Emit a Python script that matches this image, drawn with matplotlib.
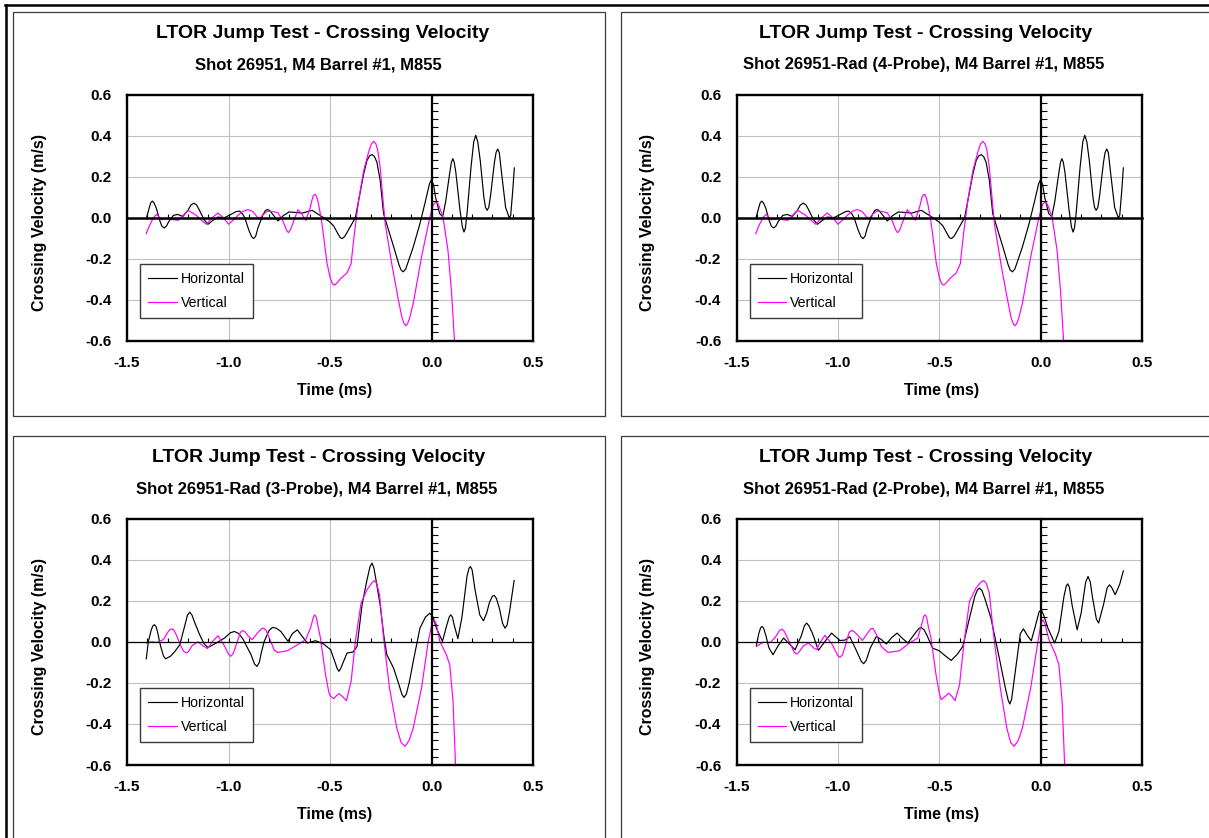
import matplotlib
matplotlib.use("Agg")
import matplotlib.pyplot as plt
from matplotlib.ticker import MultipleLocator, FormatStrFormatter
from matplotlib.patches import Rectangle
from matplotlib.lines import Line2D

plt.rcParams['font.family'] = ['Liberation Sans', 'DejaVu Sans']

# ---------------- data: (time ms, crossing velocity m/s) ----------------
# Shot 26951 (the 4-probe radial chart shows the same traces)
base_h = [(-1.405, -0.005), (-1.39, 0.05), (-1.383, 0.073), (-1.375, 0.081), (-1.367, 0.072),
          (-1.355, 0.045), (-1.34, -0.01), (-1.328, -0.042), (-1.316, -0.05), (-1.305, -0.04),
          (-1.295, -0.02), (-1.272, 0.011), (-1.25, 0.016), (-1.225, 0.006), (-1.20, 0.035),
          (-1.185, 0.062), (-1.171, 0.071), (-1.157, 0.062), (-1.145, 0.04), (-1.12, -0.01),
          (-1.101, -0.032), (-1.075, -0.012), (-1.052, 0.003), (-1.02, 0.0), (-0.99, 0.015),
          (-0.962, 0.03), (-0.946, 0.032), (-0.932, 0.02), (-0.92, 0.0), (-0.90, -0.06),
          (-0.886, -0.093), (-0.876, -0.102), (-0.866, -0.09), (-0.855, -0.05), (-0.83, 0.015),
          (-0.818, 0.035), (-0.808, 0.040), (-0.797, 0.035), (-0.785, 0.02), (-0.756, -0.016),
          (-0.73, 0.01), (-0.702, 0.028), (-0.66, 0.025), (-0.637, 0.022), (-0.61, 0.03),
          (-0.588, 0.036), (-0.56, 0.018), (-0.531, 0.0), (-0.50, -0.022), (-0.482, -0.04),
          (-0.46, -0.08), (-0.45, -0.097), (-0.44, -0.102), (-0.428, -0.092), (-0.415, -0.07),
          (-0.375, 0.0), (-0.334, 0.214), (-0.318, 0.279), (-0.305, 0.302), (-0.293, 0.308),
          (-0.281, 0.298), (-0.269, 0.271), (-0.253, 0.183), (-0.236, 0.019), (-0.187, -0.14),
          (-0.16, -0.23), (-0.15, -0.255), (-0.139, -0.264), (-0.127, -0.25), (-0.106, -0.19),
          (-0.09, -0.143), (-0.057, -0.029), (-0.03, 0.08), (-0.01, 0.165), (0.0, 0.187),
          (0.01, 0.16), (0.02, 0.10), (0.04, 0.02), (0.055, 0.005), (0.07, 0.08),
          (0.09, 0.22), (0.098, 0.27), (0.105, 0.288), (0.112, 0.27), (0.12, 0.22),
          (0.14, 0.04), (0.152, -0.045), (0.16, -0.07), (0.167, -0.05), (0.175, 0.02),
          (0.195, 0.25), (0.208, 0.37), (0.218, 0.402), (0.228, 0.37), (0.24, 0.28),
          (0.258, 0.10), (0.266, 0.05), (0.274, 0.036), (0.282, 0.05), (0.29, 0.10),
          (0.31, 0.27), (0.318, 0.318), (0.326, 0.335), (0.334, 0.318), (0.345, 0.22),
          (0.365, 0.05), (0.383, 0.0), (0.39, 0.01), (0.40, 0.13), (0.408, 0.243)]
base_v = [(-1.405, -0.078), (-1.39, -0.04), (-1.37, 0.0), (-1.354, 0.016), (-1.329, -0.01),
          (-1.30, -0.005), (-1.27, -0.01), (-1.248, -0.013), (-1.22, 0.015), (-1.199, 0.036),
          (-1.158, 0.011), (-1.13, -0.015), (-1.109, -0.032), (-1.08, 0.0), (-1.052, 0.023),
          (-1.025, 0.0), (-1.0, -0.032), (-0.975, -0.01), (-0.954, 0.011), (-0.93, 0.03),
          (-0.905, 0.04), (-0.88, 0.03), (-0.86, 0.005), (-0.848, -0.005), (-0.83, 0.015),
          (-0.808, 0.032), (-0.78, 0.03), (-0.756, 0.024), (-0.73, -0.02), (-0.715, -0.06),
          (-0.705, -0.073), (-0.695, -0.06), (-0.68, -0.02), (-0.658, 0.039), (-0.64, 0.02),
          (-0.619, -0.013), (-0.60, 0.04), (-0.585, 0.10), (-0.578, 0.112), (-0.571, 0.113),
          (-0.563, 0.095), (-0.555, 0.06), (-0.541, -0.02), (-0.531, -0.094), (-0.515, -0.22),
          (-0.50, -0.29), (-0.488, -0.322), (-0.478, -0.329), (-0.465, -0.318), (-0.448, -0.297),
          (-0.416, -0.269), (-0.396, -0.224), (-0.388, -0.15), (-0.38, -0.078), (-0.359, 0.084),
          (-0.334, 0.23), (-0.31, 0.32), (-0.297, 0.358), (-0.285, 0.373), (-0.274, 0.36),
          (-0.265, 0.33), (-0.253, 0.246), (-0.24, 0.10), (-0.228, -0.029), (-0.196, -0.224),
          (-0.163, -0.402), (-0.145, -0.49), (-0.135, -0.517), (-0.126, -0.527), (-0.117, -0.515),
          (-0.108, -0.49), (-0.09, -0.418), (-0.049, -0.191), (-0.008, 0.003), (0.01, 0.065),
          (0.021, 0.076), (0.032, 0.068), (0.04, 0.05), (0.057, 0.0), (0.081, -0.159),
          (0.098, -0.353), (0.114, -0.613), (0.12, -0.72)]

# Shot 26951-Rad (3-Probe)
p3_h = [(-1.405, -0.083), (-1.395, 0.0), (-1.38, 0.06), (-1.372, 0.078), (-1.365, 0.083),
        (-1.357, 0.074), (-1.35, 0.05), (-1.335, -0.02), (-1.32, -0.07), (-1.31, -0.083),
        (-1.285, -0.07), (-1.264, -0.047), (-1.24, -0.015), (-1.215, 0.08), (-1.202, 0.13),
        (-1.191, 0.144), (-1.18, 0.13), (-1.165, 0.09), (-1.142, 0.034), (-1.12, -0.01),
        (-1.101, -0.028), (-1.06, -0.006), (-1.02, 0.018), (-0.99, 0.044), (-0.971, 0.05),
        (-0.95, 0.04), (-0.93, 0.015), (-0.889, -0.063), (-0.872, -0.108), (-0.86, -0.12),
        (-0.848, -0.10), (-0.84, -0.06), (-0.824, 0.002), (-0.80, 0.055), (-0.783, 0.07),
        (-0.765, 0.066), (-0.742, 0.05), (-0.707, 0.002), (-0.685, 0.04), (-0.661, 0.058),
        (-0.64, 0.03), (-0.612, -0.006), (-0.571, 0.005), (-0.531, -0.011), (-0.497, -0.039),
        (-0.475, -0.10), (-0.465, -0.13), (-0.456, -0.144), (-0.447, -0.13), (-0.435, -0.10),
        (-0.416, -0.055), (-0.386, -0.05), (-0.367, -0.023), (-0.342, 0.18), (-0.318, 0.30),
        (-0.303, 0.365), (-0.293, 0.383), (-0.284, 0.36), (-0.275, 0.31), (-0.253, 0.18),
        (-0.235, 0.03), (-0.22, -0.063), (-0.187, -0.128), (-0.16, -0.21), (-0.145, -0.258),
        (-0.135, -0.271), (-0.124, -0.255), (-0.11, -0.20), (-0.09, -0.096), (-0.057, 0.066),
        (-0.03, 0.12), (-0.008, 0.139), (0.008, 0.12), (0.024, 0.066), (0.054, 0.002),
        (0.075, 0.08), (0.088, 0.122), (0.095, 0.131), (0.103, 0.12), (0.112, 0.08),
        (0.13, 0.015), (0.15, 0.12), (0.175, 0.32), (0.185, 0.358), (0.192, 0.366),
        (0.20, 0.35), (0.215, 0.25), (0.238, 0.13), (0.256, 0.102), (0.272, 0.14),
        (0.285, 0.19), (0.30, 0.222), (0.31, 0.225), (0.32, 0.21), (0.335, 0.16),
        (0.35, 0.09), (0.362, 0.066), (0.372, 0.08), (0.385, 0.15), (0.407, 0.298)]
p3_v = [(-1.405, -0.006), (-1.38, 0.0), (-1.355, -0.003), (-1.321, 0.01), (-1.30, 0.045),
        (-1.288, 0.06), (-1.28, 0.062), (-1.27, 0.058), (-1.26, 0.04), (-1.235, -0.02),
        (-1.22, -0.048), (-1.207, -0.055), (-1.195, -0.045), (-1.18, -0.02), (-1.151, 0.0),
        (-1.125, -0.02), (-1.103, -0.033), (-1.08, 0.0), (-1.052, 0.029), (-1.02, -0.02),
        (-1.0, -0.06), (-0.99, -0.071), (-0.978, -0.06), (-0.96, -0.01), (-0.942, 0.045),
        (-0.93, 0.055), (-0.918, 0.048), (-0.905, 0.03), (-0.884, 0.01), (-0.855, 0.045),
        (-0.838, 0.063), (-0.827, 0.066), (-0.815, 0.055), (-0.80, 0.02), (-0.775, -0.04),
        (-0.759, -0.052), (-0.71, -0.044), (-0.661, -0.015), (-0.62, 0.01), (-0.595, 0.07),
        (-0.582, 0.12), (-0.575, 0.131), (-0.567, 0.118), (-0.56, 0.08), (-0.547, 0.018),
        (-0.522, -0.16), (-0.505, -0.25), (-0.497, -0.266), (-0.481, -0.277), (-0.468, -0.262),
        (-0.456, -0.253), (-0.44, -0.265), (-0.419, -0.287), (-0.396, -0.193), (-0.375, 0.002),
        (-0.347, 0.188), (-0.318, 0.253), (-0.295, 0.285), (-0.282, 0.298), (-0.27, 0.285),
        (-0.256, 0.229), (-0.236, 0.018), (-0.207, -0.225), (-0.171, -0.42), (-0.15, -0.49),
        (-0.13, -0.509), (-0.11, -0.48), (-0.09, -0.42), (-0.049, -0.225), (-0.016, 0.002),
        (0.003, 0.09), (0.013, 0.107), (0.024, 0.085), (0.041, 0.002), (0.073, -0.063),
        (0.09, -0.112), (0.106, -0.29), (0.119, -0.614), (0.124, -0.72)]

# Shot 26951-Rad (2-Probe)
p2_h = [(-1.402, -0.018), (-1.39, 0.04), (-1.381, 0.068), (-1.374, 0.075), (-1.366, 0.065),
        (-1.355, 0.03), (-1.34, -0.03), (-1.32, -0.063), (-1.295, -0.02), (-1.268, 0.018),
        (-1.24, -0.01), (-1.211, -0.039), (-1.18, 0.03), (-1.165, 0.078), (-1.154, 0.091),
        (-1.143, 0.078), (-1.125, 0.04), (-1.096, -0.042), (-1.065, 0.0), (-1.031, 0.042),
        (-0.99, 0.006), (-0.965, 0.008), (-0.941, 0.024), (-0.91, -0.04), (-0.885, -0.095),
        (-0.873, -0.107), (-0.86, -0.09), (-0.84, -0.03), (-0.81, 0.026), (-0.785, 0.01),
        (-0.761, -0.011), (-0.735, 0.02), (-0.708, 0.042), (-0.68, 0.015), (-0.655, -0.006),
        (-0.62, 0.04), (-0.60, 0.065), (-0.59, 0.07), (-0.575, 0.058), (-0.56, 0.03),
        (-0.533, -0.031), (-0.50, -0.044), (-0.467, -0.071), (-0.441, -0.091), (-0.41, -0.06),
        (-0.384, -0.023), (-0.351, 0.115), (-0.325, 0.22), (-0.312, 0.252), (-0.302, 0.261),
        (-0.29, 0.25), (-0.275, 0.21), (-0.245, 0.115), (-0.204, -0.079), (-0.175, -0.22),
        (-0.16, -0.285), (-0.152, -0.303), (-0.143, -0.28), (-0.135, -0.22), (-0.114, -0.063),
        (-0.10, 0.04), (-0.085, 0.063), (-0.065, 0.03), (-0.046, 0.005), (-0.025, 0.08),
        (-0.008, 0.145), (0.003, 0.156), (0.015, 0.13), (0.036, 0.066), (0.069, -0.006),
        (0.09, 0.05), (0.115, 0.22), (0.126, 0.27), (0.134, 0.282), (0.142, 0.265),
        (0.155, 0.18), (0.18, 0.058), (0.20, 0.14), (0.222, 0.29), (0.234, 0.318),
        (0.245, 0.29), (0.255, 0.22), (0.275, 0.11), (0.286, 0.091), (0.31, 0.18),
        (0.328, 0.262), (0.34, 0.277), (0.35, 0.265), (0.368, 0.229), (0.39, 0.28),
        (0.408, 0.345)]
p2_v = [(-1.402, -0.023), (-1.37, -0.003), (-1.333, -0.003), (-1.31, 0.02), (-1.288, 0.055),
        (-1.276, 0.062), (-1.264, 0.05), (-1.24, 0.0), (-1.215, -0.052), (-1.203, -0.06),
        (-1.19, -0.048), (-1.17, -0.02), (-1.145, -0.006), (-1.12, -0.03), (-1.105, -0.038),
        (-1.085, 0.0), (-1.064, 0.031), (-1.03, -0.01), (-1.0, -0.068), (-0.99, -0.075),
        (-0.978, -0.065), (-0.96, -0.01), (-0.945, 0.045), (-0.933, 0.055), (-0.92, 0.05),
        (-0.905, 0.035), (-0.879, 0.006), (-0.855, 0.04), (-0.838, 0.063), (-0.827, 0.066),
        (-0.81, 0.035), (-0.786, -0.023), (-0.753, -0.052), (-0.696, -0.044), (-0.647, -0.006),
        (-0.606, 0.018), (-0.585, 0.09), (-0.576, 0.125), (-0.569, 0.131), (-0.562, 0.118),
        (-0.555, 0.08), (-0.541, 0.018), (-0.516, -0.16), (-0.50, -0.25), (-0.49, -0.282),
        (-0.47, -0.265), (-0.454, -0.25), (-0.438, -0.265), (-0.422, -0.287), (-0.40, -0.209),
        (-0.379, -0.015), (-0.351, 0.196), (-0.319, 0.261), (-0.295, 0.29), (-0.281, 0.298),
        (-0.268, 0.285), (-0.253, 0.237), (-0.232, 0.034), (-0.199, -0.225), (-0.167, -0.42),
        (-0.148, -0.49), (-0.131, -0.509), (-0.11, -0.48), (-0.09, -0.42), (-0.049, -0.225),
        (-0.013, 0.002), (0.002, 0.09), (0.011, 0.107), (0.022, 0.085), (0.041, 0.01),
        (0.074, -0.063), (0.09, -0.112), (0.106, -0.29), (0.119, -0.614), (0.124, -0.72)]

title_main = "LTOR Jump Test - Crossing Velocity"
subtitles = ["Shot 26951, M4 Barrel #1, M855",
             "Shot 26951-Rad (4-Probe), M4 Barrel #1, M855",
             "Shot 26951-Rad (3-Probe), M4 Barrel #1, M855",
             "Shot 26951-Rad (2-Probe), M4 Barrel #1, M855"]
series = [(base_h, base_v), (base_h, base_v), (p3_h, p3_v), (p2_h, p2_v)]
legend_labels = ["Horizontal", "Vertical"]
x_ticks = [-1.5, -1.0, -0.5, 0.0, 0.5]
y_ticks = [-0.6, -0.4, -0.2, 0.0, 0.2, 0.4, 0.6]

# ---------------- layout (pixels of a 1209 x 838 canvas) ----------------
W, H = 1209, 838
fig = plt.figure(figsize=(W / 100, H / 100), dpi=100)
fig.patch.set_facecolor('white')


def fx(x):
    return x / W


def fy(y):
    return 1 - y / H


plot_boxes = [(127, 94.7, 533, 340.7), (736.5, 94.7, 1142, 340.7),
              (127, 518.5, 533, 765), (736.5, 518.5, 1142, 765)]
panel_boxes = [(12.8, 12.3, 605, 416), (621, 12.3, 1216, 416),
               (12.8, 435.7, 605, 845), (621, 435.7, 1216, 845)]
title_xy = [(323, 34, 318, 65), (926, 34, 924, 65),
            (319, 457, 317, 489), (926, 457, 924, 489)]
ylabel_xy = [(40, 222), (647, 222), (40, 646), (647, 646)]
xlabel_xy = [(335, 390), (942, 390), (335, 814), (942, 814)]
zero_h_lw = [1.8, 1.8, 0.9, 0.9]

fig.add_artist(Line2D([fx(5), fx(W + 5)], [fy(5.5), fy(5.5)], color='black', lw=1.8,
                      transform=fig.transFigure))
fig.add_artist(Line2D([fx(5.5), fx(5.5)], [fy(5), fy(H + 5)], color='black', lw=1.8,
                      transform=fig.transFigure))

for i in range(4):
    l, t, r, b = panel_boxes[i]
    fig.add_artist(Rectangle((fx(l), fy(b)), fx(r) - fx(l), fy(t) - fy(b),
                             transform=fig.transFigure, fill=False,
                             edgecolor='#3a3a3a', lw=0.9))

    l, t, r, b = plot_boxes[i]
    pos = [fx(l), fy(b), fx(r) - fx(l), fy(t) - fy(b)]
    ax = fig.add_axes(pos)
    ax.set_xlim(-1.5, 0.5)
    ax.set_ylim(-0.6, 0.6)
    ax.set_xticks(x_ticks)
    ax.set_yticks(y_ticks)
    ax.xaxis.set_major_formatter(FormatStrFormatter('%.1f'))
    ax.yaxis.set_major_formatter(FormatStrFormatter('%.1f'))
    ax.tick_params(length=0, labelsize=11, pad=11)
    for lab in ax.get_xticklabels() + ax.get_yticklabels():
        lab.set_fontweight('bold')
    ax.grid(True, color='#c0c0c0', lw=0.8)
    ax.set_axisbelow(True)
    for s in ax.spines.values():
        s.set_linewidth(1.7)
        s.set_color('black')
        s.set_zorder(5)

    h_pts, v_pts = series[i]
    ax.plot([p[0] for p in h_pts], [p[1] for p in h_pts], color='black', lw=0.85,
            label=legend_labels[0], zorder=3, solid_joinstyle='round')
    ax.plot([p[0] for p in v_pts], [p[1] for p in v_pts], color='#ff00ff', lw=0.85,
            label=legend_labels[1], zorder=3, solid_joinstyle='round')

    leg = ax.legend(loc='lower left', bbox_to_anchor=(0.033, 0.093), borderaxespad=0,
                    fontsize=10.2, frameon=True, fancybox=False, framealpha=1,
                    edgecolor='#3a3a3a', handlelength=2.0, handletextpad=0.3,
                    labelspacing=0.72, borderpad=0.55)
    leg.get_frame().set_linewidth(1.0)
    leg.set_zorder(6)

    # axes crossing at zero, with inward tick marks
    ax2 = fig.add_axes(pos, facecolor='none')
    ax2.set_xlim(-1.5, 0.5)
    ax2.set_ylim(-0.6, 0.6)
    ax2.spines['top'].set_visible(False)
    ax2.spines['right'].set_visible(False)
    ax2.spines['left'].set_position(('data', 0))
    ax2.spines['bottom'].set_position(('data', 0))
    ax2.spines['left'].set_linewidth(1.6)
    ax2.spines['bottom'].set_linewidth(zero_h_lw[i])
    ax2.xaxis.set_major_locator(MultipleLocator(0.5))
    ax2.xaxis.set_minor_locator(MultipleLocator(0.1))
    ax2.yaxis.set_major_locator(MultipleLocator(0.2))
    ax2.yaxis.set_minor_locator(MultipleLocator(0.04))
    ax2.tick_params(axis='both', which='both', direction='in', labelleft=False,
                    labelbottom=False, width=0.8)
    ax2.tick_params(axis='x', which='both', length=3)
    ax2.tick_params(axis='y', which='both', length=4)

    tx, ty, sx, sy = title_xy[i]
    fig.text(fx(tx), fy(ty), title_main, ha='center', va='center', fontsize=14,
             fontweight='bold')
    fig.text(fx(sx), fy(sy), subtitles[i], ha='center', va='center', fontsize=12,
             fontweight='bold')
    yx, yy = ylabel_xy[i]
    fig.text(fx(yx), fy(yy), "Crossing Velocity (m/s)", ha='center', va='center',
             rotation=90, fontsize=11.5, fontweight='bold')
    xx, xy = xlabel_xy[i]
    fig.text(fx(xx), fy(xy), "Time (ms)", ha='center', va='center', fontsize=11.5,
             fontweight='bold')

fig.savefig('out.png', dpi=100)
